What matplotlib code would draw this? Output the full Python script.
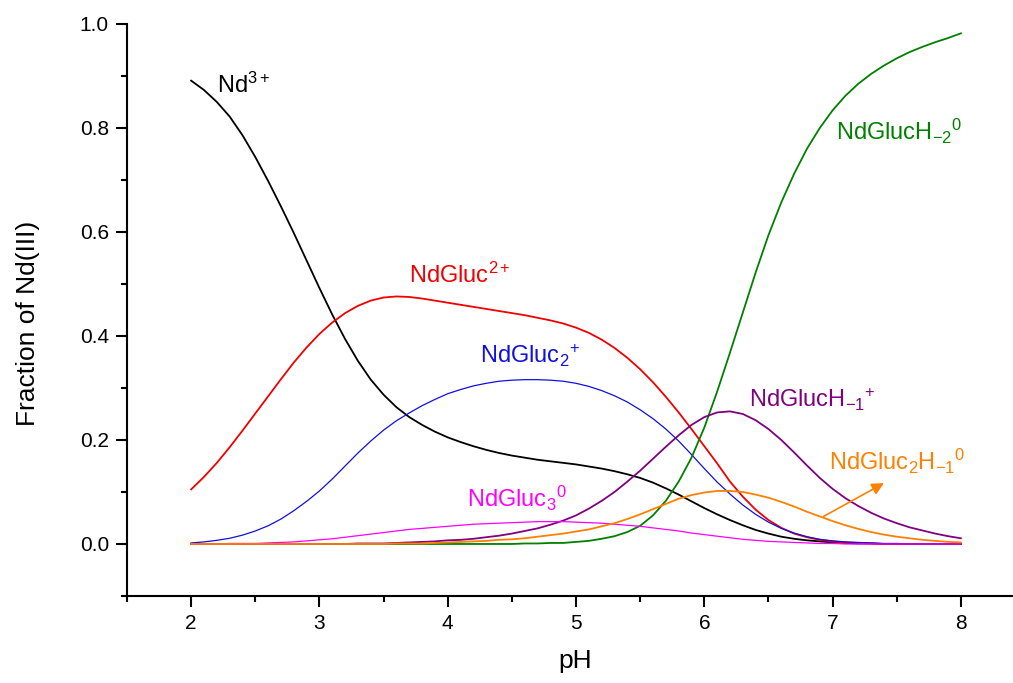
import numpy as np
import matplotlib
matplotlib.use("Agg")
import matplotlib.pyplot as plt
from matplotlib.ticker import MultipleLocator

plt.rcParams['font.family'] = ['Liberation Sans', 'DejaVu Sans']
plt.rcParams['mathtext.fontset'] = 'custom'
plt.rcParams['mathtext.rm'] = 'Liberation Sans'
plt.rcParams['mathtext.it'] = 'Liberation Sans:italic'

## data (pH 2.0 .. 8.0, step 0.1)
ph = np.linspace(2.0, 8.0, 61)

nd3 = [0.891, 0.873, 0.850, 0.822, 0.786, 0.744, 0.698, 0.649, 0.598, 0.545,
       0.492, 0.441, 0.394, 0.352, 0.316, 0.287, 0.263, 0.244, 0.229, 0.216,
       0.205, 0.196, 0.188, 0.181, 0.175, 0.170, 0.166, 0.162, 0.159, 0.156,
       0.153, 0.149, 0.145, 0.140, 0.134, 0.127, 0.118, 0.107, 0.095, 0.082,
       0.069, 0.057, 0.046, 0.036, 0.027, 0.020, 0.014, 0.010, 0.007, 0.005,
       0.003, 0.002, 0.001, 0.001, 0.0, 0.0, 0.0, 0.0, 0.0, 0.0,
       0.0]

ndgluc = [0.105, 0.129, 0.156, 0.186, 0.218, 0.251, 0.284, 0.317, 0.349, 0.378,
          0.404, 0.426, 0.444, 0.458, 0.468, 0.474, 0.476, 0.475, 0.472, 0.468,
          0.464, 0.460, 0.456, 0.452, 0.448, 0.444, 0.440, 0.435, 0.430, 0.424,
          0.416, 0.406, 0.393, 0.377, 0.358, 0.336, 0.311, 0.283, 0.253, 0.221,
          0.188, 0.155, 0.120, 0.091, 0.066, 0.046, 0.031, 0.020, 0.013, 0.008,
          0.005, 0.003, 0.002, 0.001, 0.0, 0.0, 0.0, 0.0, 0.0, 0.0,
          0.0]

ndgluc2 = [0.002, 0.004, 0.007, 0.011, 0.017, 0.025, 0.035, 0.048, 0.064, 0.082,
           0.102, 0.125, 0.150, 0.175, 0.198, 0.219, 0.237, 0.252, 0.266, 0.278,
           0.289, 0.297, 0.304, 0.309, 0.313, 0.315, 0.316, 0.316, 0.315, 0.313,
           0.309, 0.303, 0.295, 0.285, 0.273, 0.258, 0.241, 0.221, 0.198, 0.172,
           0.145, 0.119, 0.096, 0.075, 0.057, 0.042, 0.030, 0.021, 0.014, 0.009,
           0.006, 0.004, 0.003, 0.002, 0.001, 0.001, 0.0, 0.0, 0.0, 0.0,
           0.0]

ndgluc3 = [0.0, 0.0, 0.0, 0.001, 0.001, 0.001, 0.002, 0.003, 0.004, 0.006,
           0.008, 0.010, 0.013, 0.016, 0.019, 0.022, 0.025, 0.028, 0.030, 0.032,
           0.034, 0.036, 0.038, 0.039, 0.040, 0.041, 0.042, 0.043, 0.043, 0.043,
           0.042, 0.041, 0.040, 0.038, 0.036, 0.034, 0.031, 0.028, 0.025, 0.021,
           0.018, 0.015, 0.012, 0.009, 0.007, 0.005, 0.004, 0.003, 0.002, 0.001,
           0.001, 0.0, 0.0, 0.0, 0.0, 0.0, 0.0, 0.0, 0.0, 0.0,
           0.0]

ndglucH1 = [0.0, 0.0, 0.0, 0.0, 0.0, 0.0, 0.0, 0.0, 0.0, 0.0,
            0.0, 0.0, 0.0, 0.001, 0.001, 0.001, 0.002, 0.003, 0.004, 0.005,
            0.007, 0.008, 0.010, 0.013, 0.016, 0.020, 0.025, 0.030, 0.037, 0.045,
            0.055, 0.068, 0.083, 0.100, 0.120, 0.141, 0.164, 0.187, 0.209, 0.229,
            0.244, 0.253, 0.255, 0.250, 0.238, 0.221, 0.200, 0.176, 0.151, 0.127,
            0.106, 0.088, 0.073, 0.060, 0.049, 0.040, 0.032, 0.026, 0.020, 0.015,
            0.011]

ndgluc2H1 = [0.0, 0.0, 0.0, 0.0, 0.0, 0.0, 0.0, 0.0, 0.0, 0.0,
             0.0, 0.0, 0.0, 0.0, 0.0, 0.0, 0.001, 0.001, 0.001, 0.002,
             0.003, 0.004, 0.005, 0.006, 0.008, 0.009, 0.011, 0.014, 0.017, 0.020,
             0.024, 0.028, 0.034, 0.040, 0.048, 0.057, 0.067, 0.077, 0.087, 0.094,
             0.099, 0.102, 0.102, 0.100, 0.095, 0.089, 0.081, 0.072, 0.062, 0.053,
             0.044, 0.036, 0.029, 0.023, 0.018, 0.014, 0.011, 0.008, 0.006, 0.004,
             0.003]

ndglucH2 = [0.0, 0.0, 0.0, 0.0, 0.0, 0.0, 0.0, 0.0, 0.0, 0.0,
            0.0, 0.0, 0.0, 0.0, 0.0, 0.0, 0.0, 0.0, 0.0, 0.0,
            0.0, 0.0, 0.0, 0.0, 0.0, 0.0, 0.001, 0.001, 0.002, 0.002,
            0.004, 0.006, 0.010, 0.015, 0.023, 0.035, 0.055, 0.083, 0.120, 0.166,
            0.224, 0.293, 0.368, 0.445, 0.522, 0.594, 0.657, 0.712, 0.760, 0.800,
            0.834, 0.862, 0.885, 0.904, 0.920, 0.934, 0.946, 0.956, 0.965, 0.973,
            0.982]

fig = plt.figure(figsize=(10.13, 6.83), dpi=100)
ax = fig.add_axes([0.1254, 0.1274, 0.8865, 0.8375])

ax.plot(ph, nd3, color='black', lw=1.3)
ax.plot(ph, ndgluc, color='#f00000', lw=1.3)
ax.plot(ph, ndgluc2, color='#1010e0', lw=0.9)
ax.plot(ph, ndglucH2, color='#008000', lw=1.3)
ax.plot(ph, ndglucH1, color='#800080', lw=1.3)
ax.plot(ph, ndgluc3, color='#ff00ff', lw=0.9)
ax.plot(ph, ndgluc2H1, color='#ff8000', lw=1.3)

fs = 17
ax.text(2.205, 0.867, r'Nd$\mathregular{^{3+}}$', color='black', fontsize=fs)
ax.text(3.70, 0.502, r'NdGluc$\mathregular{^{2+}}$', color='#f00000', fontsize=fs)
ax.text(4.25, 0.348, r'NdGluc$\mathregular{_2{}^{+}}$', color='#1010e0', fontsize=fs)
ax.text(4.15, 0.071, r'NdGluc$\mathregular{_3{}^{0}}$', color='#ff00ff', fontsize=fs)
ax.text(6.35, 0.263, r'NdGlucH$\mathregular{_{-1}{}^{+}}$', color='#800080', fontsize=fs)
ax.text(6.97, 0.142, r'NdGluc$\mathregular{_2}$H$\mathregular{_{-1}{}^{0}}$', color='#ff8000', fontsize=fs)
ax.text(7.03, 0.777, r'NdGlucH$\mathregular{_{-2}{}^{0}}$', color='#008000', fontsize=fs)
ax.annotate('', xy=(7.40, 0.117), xytext=(6.93, 0.053),
            arrowprops=dict(arrowstyle='-|>', color='#ff8000', lw=1.2,
                            mutation_scale=18, shrinkA=0, shrinkB=0))

ax.set_xlim(1.5, 8.5)
ax.set_ylim(-0.1, 1.0)
ax.xaxis.set_major_locator(MultipleLocator(1))
ax.xaxis.set_minor_locator(MultipleLocator(0.5))
ax.yaxis.set_major_locator(MultipleLocator(0.2))
ax.yaxis.set_minor_locator(MultipleLocator(0.1))
ax.yaxis.set_major_formatter(plt.FormatStrFormatter('%.1f'))

for s in ['top', 'right']:
    ax.spines[s].set_visible(False)
for s in ['left', 'bottom']:
    ax.spines[s].set_linewidth(1.5)

ax.tick_params(which='major', direction='out', length=8, width=1.5, labelsize=15, pad=5)
ax.tick_params(which='minor', direction='out', length=4, width=1.5)

ax.set_xlabel('pH', fontsize=19)
ax.set_ylabel('Fraction of Nd(III)', fontsize=19)
ax.xaxis.set_label_coords(0.499, -0.092)
ax.yaxis.set_label_coords(-0.097, 0.477)

fig.savefig('out.png', dpi=100)
